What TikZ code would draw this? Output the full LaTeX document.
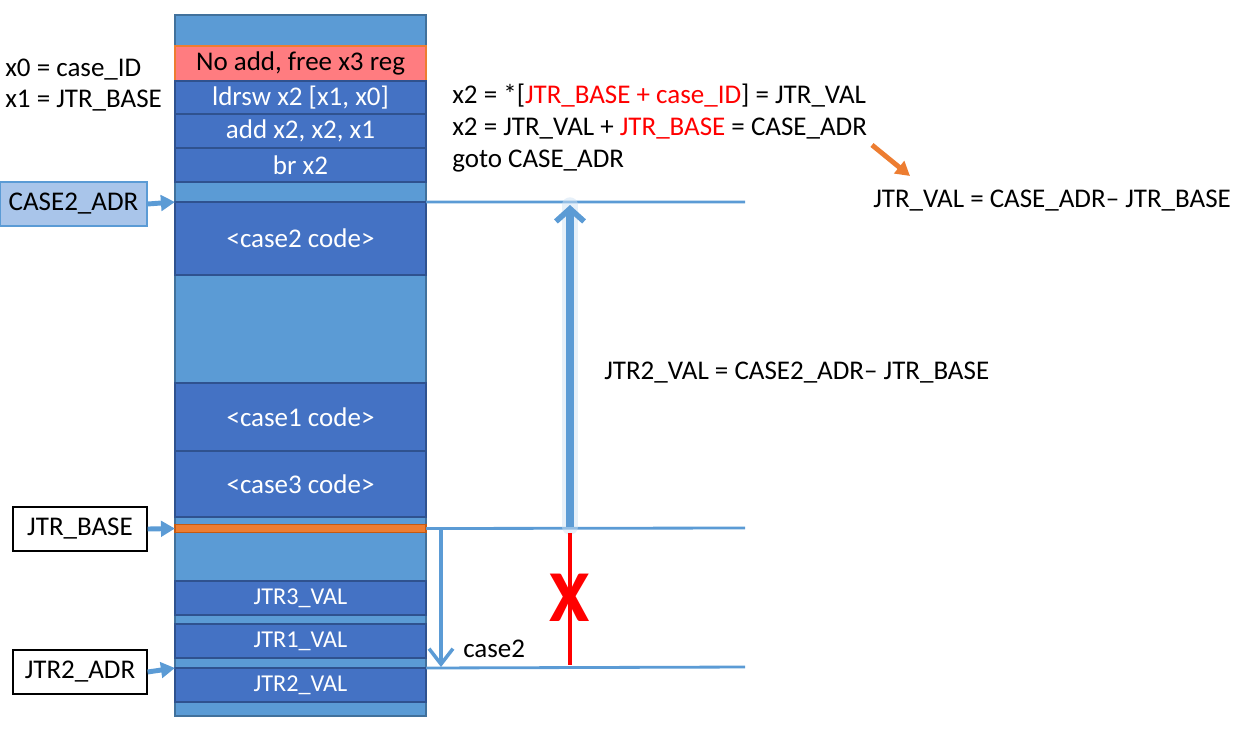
\documentclass[tikz,border=0pt]{standalone}
\usepackage{fontspec}
\setmainfont{Carlito}
\usepackage{xcolor}
\usetikzlibrary{arrows.meta}

\definecolor{memblue}{HTML}{5B9BD5}
\definecolor{memedge}{HTML}{41719C}
\definecolor{codeblue}{HTML}{4472C4}
\definecolor{codeedge}{HTML}{2F528F}
\definecolor{badred}{HTML}{FF7C80}
\definecolor{jtrorange}{HTML}{ED7D31}
\definecolor{jtredge}{HTML}{C55A11}
\definecolor{adrfill}{HTML}{A9C5EA}

\tikzset{
  bigfont/.style={font=\fontsize{19.2}{22}\selectfont},
  stackcol/.style={fill=memblue, draw=memedge, line width=1.2pt, minimum width=6.275cm, inner sep=0pt, outer sep=0pt},
  codeblk/.style={stackcol, fill=codeblue, draw=codeedge, text=white, bigfont},
  valblk/.style={codeblk, font=\fontsize{17.2}{20}\selectfont},
  badblk/.style={stackcol, fill=badred, draw=jtrorange, text=black, bigfont},
  adrbox/.style={draw=black, line width=0.8pt, fill=white, minimum width=3.35cm, minimum height=1.1cm, inner sep=0pt, bigfont},
  ptr/.style={draw=memblue, line width=3.5pt, -{Triangle[length=10pt, width=11pt]}},
  level/.style={draw=memblue, line width=2pt},
  note/.style={anchor=west, inner sep=0pt, bigfont}
}

\begin{document}
\begin{tikzpicture}[x=0.025cm, y=-0.025cm]
        \useasboundingbox (0,0) rectangle (1240,744);
        % Memory column
        \node[stackcol, minimum height=17.525cm] (mem) at (300.5,365.5) {};
        % Code blocks
        \node[badblk, minimum height=0.875cm] (noadd) at (300.5,63.5) {No add, free x3 reg};
        \node[codeblk, minimum height=0.825cm] (ldrsw) at (300.5,97.5) {ldrsw x2 [x1, x0]};
        \node[codeblk, minimum height=0.85cm] (addx) at (300.5,131) {add x2, x2, x1};
        \node[codeblk, minimum height=0.85cm] (brx) at (300.5,165) {br x2};
        \node[codeblk, minimum height=1.825cm] (case2) at (300.5,238.5) {<case2 code>};
        \node[codeblk, minimum height=1.7cm] (case1) at (300.5,417) {<case1 code>};
        \node[codeblk, minimum height=1.65cm] (case3) at (300.5,484) {<case3 code>};
        % Jump table
        \node[stackcol, fill=jtrorange, draw=jtredge, minimum height=0.2cm] (jbase) at (300.5,528.5) {};
        \node[valblk, minimum height=0.85cm] (jtr3) at (300.5,598) {JTR3\_VAL};
        \node[valblk, minimum height=0.85cm] (jtr1) at (300.5,641) {JTR1\_VAL};
        \node[valblk, minimum height=0.85cm] (jtr2) at (300.5,685) {JTR2\_VAL};

        % Address boxes
        \node[adrbox, fill=adrfill, draw=memblue, minimum width=3.675cm] (adr2) at (73.5,204) {CASE2\_ADR};
        \node[adrbox] (base) at (80,529) {JTR\_BASE};
        \node[adrbox] (jadr) at (80,672) {JTR2\_ADR};
        \draw[ptr] (adr2.east) -- (case2.north west);
        \draw[ptr] (base.east) -- (jbase.west);
        \draw[ptr] (jadr.east) -- (jtr2.north west);

        % Levels
        \coordinate (top) at (745,202);
        \coordinate (mid) at (745,528);
        \coordinate (low) at (745,667);
        \draw[level] (case2.north east) -- (top);
        \draw[level] (jbase.east) -- (mid);
        \draw[level] (jtr2.north east) -- (low);

        % Offset arrow
        \coordinate (upfrom) at (570,527);
        \coordinate (upto) at (570,205);
        \draw[memblue!30, line width=11pt, opacity=0.5, line cap=round] (upfrom) -- (upto);
        \draw[memblue, line width=5pt, -{Straight Barb[length=9pt, width=20pt, line width=4pt]}] (upfrom) -- (upto);
        \draw[red, line width=2.5pt] (570,533) -- (570,665);
        \node[text=red, font=\fontsize{52}{52}\bfseries\selectfont, inner sep=0pt] (cross) at (570,598) {X};

        % case2 step
        \coordinate (stepfrom) at (441,530);
        \coordinate (stepto) at (441,667);
        \draw[memblue, line width=2.5pt, -{Straight Barb[length=11pt, width=17pt, line width=2.5pt]}] (stepfrom) -- (stepto);
        \node[note] (step2) at (463,649) {case2};

        % Text
        \node[note] (regx0) at (5,70) {x0 = case\_ID};
        \node[note] (regx1) at (5,101) {x1 = JTR\_BASE};
        \node[note] (line1) at (452,96) {x2 = *[\textcolor{red}{JTR\_BASE + case\_ID}] = JTR\_VAL};
        \node[note] (line2) at (452,129) {x2 = JTR\_VAL + \textcolor{red}{JTR\_BASE} = CASE\_ADR};
        \node[note] (line3) at (452,161) {goto CASE\_ADR};
        \node[note] (jval) at (873,201) {JTR\_VAL = CASE\_ADR– JTR\_BASE};
        \node[note] (j2val) at (604,373) {JTR2\_VAL = CASE2\_ADR– JTR\_BASE};
        \coordinate (hint) at (872,145);
        \coordinate (hintto) at (910,176);
        \draw[jtrorange, line width=3.5pt, -{Triangle[length=10pt, width=11pt]}] (hint) -- (hintto);
      \end{tikzpicture}
\end{document}
